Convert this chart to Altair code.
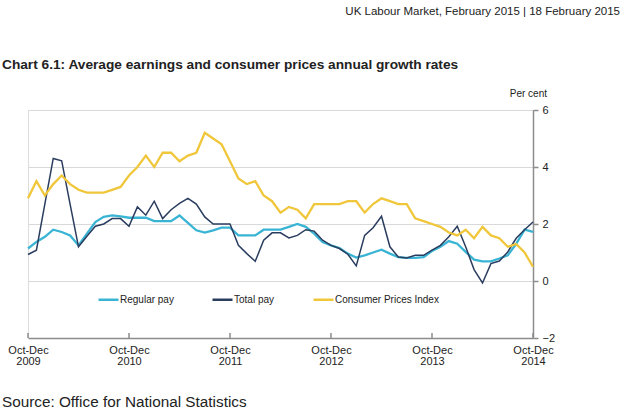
import altair as alt
import pandas as pd

# --- data ---
periods = list(range(61))  # 0 = Oct-Dec 2009 ... 60 = Oct-Dec 2014
regular_pay = [1.14, 1.37, 1.55, 1.80, 1.72, 1.60, 1.25, 1.66, 2.07, 2.25, 2.30, 2.27,
               2.22, 2.22, 2.22, 2.10, 2.10, 2.10, 2.30, 2.04, 1.78, 1.70, 1.78, 1.87,
               1.87, 1.60, 1.60, 1.60, 1.80, 1.80, 1.80, 1.90, 2.00, 1.90, 1.66, 1.37,
               1.25, 1.16, 0.96, 0.82, 0.90, 1.00, 1.10, 0.96, 0.84, 0.81, 0.81, 0.84,
               1.05, 1.20, 1.40, 1.31, 1.02, 0.75, 0.69, 0.69, 0.79, 0.90, 1.30, 1.80,
               1.72]
total_pay = [0.93, 1.08, 2.70, 4.30, 4.22, 2.70, 1.20, 1.57, 1.92, 2.00, 2.19, 2.19,
             1.92, 2.60, 2.31, 2.80, 2.19, 2.50, 2.72, 2.90, 2.70, 2.25, 2.00, 2.00,
             2.00, 1.25, 0.96, 0.69, 1.43, 1.69, 1.69, 1.51, 1.60, 1.80, 1.75, 1.43,
             1.25, 1.14, 0.94, 0.53, 1.60, 1.87, 2.27, 1.20, 0.84, 0.81, 0.90, 0.90,
             1.08, 1.25, 1.55, 1.92, 1.20, 0.40, -0.07, 0.61, 0.70, 1.02, 1.50, 1.80,
             2.07]
cpi = [2.9, 3.5, 3.0, 3.4, 3.7, 3.4, 3.2, 3.1, 3.1, 3.1, 3.2, 3.3,
       3.7, 4.0, 4.4, 4.0, 4.5, 4.5, 4.2, 4.4, 4.5, 5.2, 5.0, 4.8,
       4.2, 3.6, 3.4, 3.5, 3.0, 2.8, 2.4, 2.6, 2.5, 2.2, 2.7, 2.7,
       2.7, 2.7, 2.8, 2.8, 2.4, 2.7, 2.9, 2.8, 2.7, 2.7, 2.2, 2.1,
       2.0, 1.9, 1.7, 1.6, 1.8, 1.5, 1.9, 1.6, 1.5, 1.2, 1.3, 1.0,
       0.5]
series_names = ["Regular pay", "Total pay", "Consumer Prices Index"]
series_colors = ["#3ab4d4", "#2a3d5f", "#f0c63a"]
tick_positions = [0, 12, 24, 36, 48, 60]
tick_years = ["2009", "2010", "2011", "2012", "2013", "2014"]
y_ticks = [-2, 0, 2, 4, 6]

rows = []
for name, vals in zip(series_names, [regular_pay, total_pay, cpi]):
    for p, v in zip(periods, vals):
        rows.append({"period": p, "value": v, "series": name})
df = pd.DataFrame(rows)
ticks_df = pd.DataFrame({"period": tick_positions, "year": tick_years})

FONT = "Liberation Sans"
W, H = 505, 228

label_expr = ("['Oct-Dec', " + "{" + ", ".join(f"'{p}': '{y}'" for p, y in zip(tick_positions, tick_years)) + "}[datum.value]]")

xscale = alt.Scale(domain=[0, 60], nice=False, zero=False)
yscale = alt.Scale(domain=[-2, 6], nice=False)

lines = alt.Chart(df).mark_line(strokeJoin="miter", clip=False).encode(
    x=alt.X("period:Q", scale=xscale,
            axis=alt.Axis(values=tick_positions, labelExpr=label_expr, title=None,
                          grid=False, ticks=False, domainColor="#8c8c8c", domainWidth=1.5,
                          labelFont=FONT, labelFontSize=11, labelColor="#222222",
                          labelPadding=6, labelLineHeight=11.5, labelFlush=False)),
    y=alt.Y("value:Q", scale=yscale,
            axis=alt.Axis(orient="right", values=y_ticks, title=None, grid=True,
                          gridColor="#d9d9d9", gridWidth=1, domainColor="#8c8c8c",
                          domainWidth=1.5, tickColor="#8c8c8c", tickSize=5, tickWidth=1.5,
                          labelFont=FONT, labelFontSize=11, labelColor="#222222",
                          labelPadding=4)),
    color=alt.Color("series:N",
                    scale=alt.Scale(domain=series_names, range=series_colors),
                    legend=alt.Legend(title=None, orient="none", direction="horizontal",
                                      legendX=69, legendY=178, symbolType="stroke",
                                      symbolSize=400, symbolStrokeWidth=2.5,
                                      labelFont=FONT, labelFontSize=10, labelColor="#222222",
                                      labelOffset=0, columnPadding=33)),
    strokeWidth=alt.condition(alt.datum.series == "Total pay", alt.value(1.5), alt.value(2.3)),
    order=alt.Order("period:Q"),
)

xticks = alt.Chart(ticks_df).mark_rule(color="#8c8c8c", strokeWidth=1.5).encode(
    x=alt.X("period:Q", scale=xscale),
    y=alt.value(H),
    y2=alt.value(H - 5),
)

def label(text, x, y, size, align="left", weight="normal", color="#222222"):
    return alt.Chart(pd.DataFrame({"t": [text]})).mark_text(
        align=align, baseline="middle", font=FONT, fontSize=size, fontWeight=weight,
        color=color).encode(text="t:N", x=alt.value(x), y=alt.value(y))

header = label("UK Labour Market, February 2015 | 18 February 2015", 592, -98, 11.5, align="right")
title = label("Chart 6.1: Average earnings and consumer prices annual growth rates", -26, -45, 13.7, weight="bold")
percent = label("Per cent", 519, -16, 10, align="right")
source = label("Source: Office for National Statistics", -26, 292, 15.3)

chart = alt.layer(xticks, lines, header, title, percent, source).properties(
    width=W, height=H,
    padding={"left": 28, "top": 110, "right": 91, "bottom": 72},
    autosize=alt.AutoSizeParams(type="none"),
).configure_view(stroke=None).configure(background="white")

chart.save("out.html", embed_options={"renderer": "svg", "actions": False})
